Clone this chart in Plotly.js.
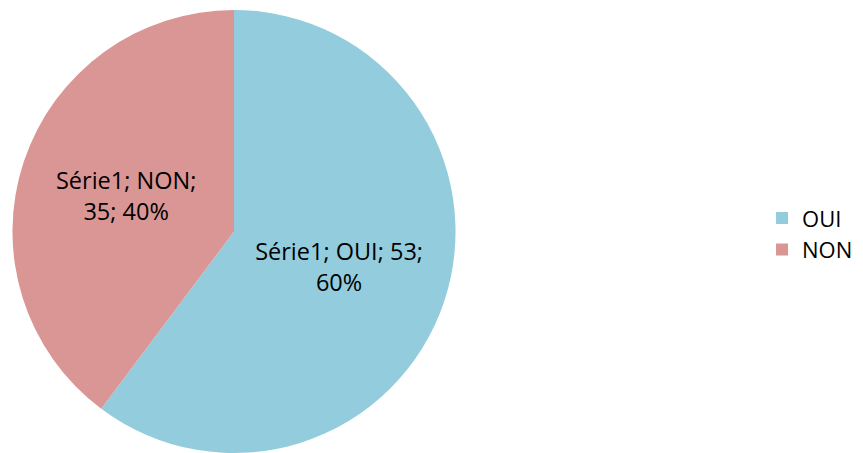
<!DOCTYPE html>
<html>
<head>
<meta charset="utf-8">
<script src="https://cdn.plot.ly/plotly-3.0.1.min.js"></script>
<style>html,body{margin:0;padding:0;background:#fff;}#chart{width:863px;height:453px;}</style>
</head>
<body>
<div id="chart"></div>
<script>
const seriesName = "Série1";
const categories = ["OUI", "NON"];
const values = [53, 35];
const colors = ["#93CDDD", "#D99694"];

const trace = {
  type: "pie",
  name: seriesName,
  labels: categories,
  values: values,
  sort: false,
  direction: "clockwise",
  rotation: 0,
  marker: { colors: colors, line: { width: 0 } },
  texttemplate: [
    seriesName + "; %{label}; %{value};<br>%{percent:.0%}",
    seriesName + "; %{label};<br>%{value}; %{percent:.0%}"
  ],
  textposition: "inside",
  insidetextorientation: "horizontal",
  textfont: { family: "Open Sans, Liberation Sans, sans-serif", size: 23.5, color: "#000000" },
  hoverinfo: "label+value+percent",
  domain: { x: [11/863, 457/863], y: [0, 0.978] }
};

const layout = {
  width: 863,
  height: 453,
  margin: { l: 0, r: 0, t: 0, b: 0 },
  paper_bgcolor: "#ffffff",
  showlegend: true,
  uniformtext: { minsize: 23.5, mode: "show" },
  legend: {
    x: 0.883, y: 0.483, xanchor: "left", yanchor: "middle",
    font: { family: "Open Sans, Liberation Sans, sans-serif", size: 22, color: "#000000" },
    itemwidth: 30
  }
};

Plotly.newPlot("chart", [trace], layout, { displayModeBar: false, staticPlot: true });
</script>
</body>
</html>
